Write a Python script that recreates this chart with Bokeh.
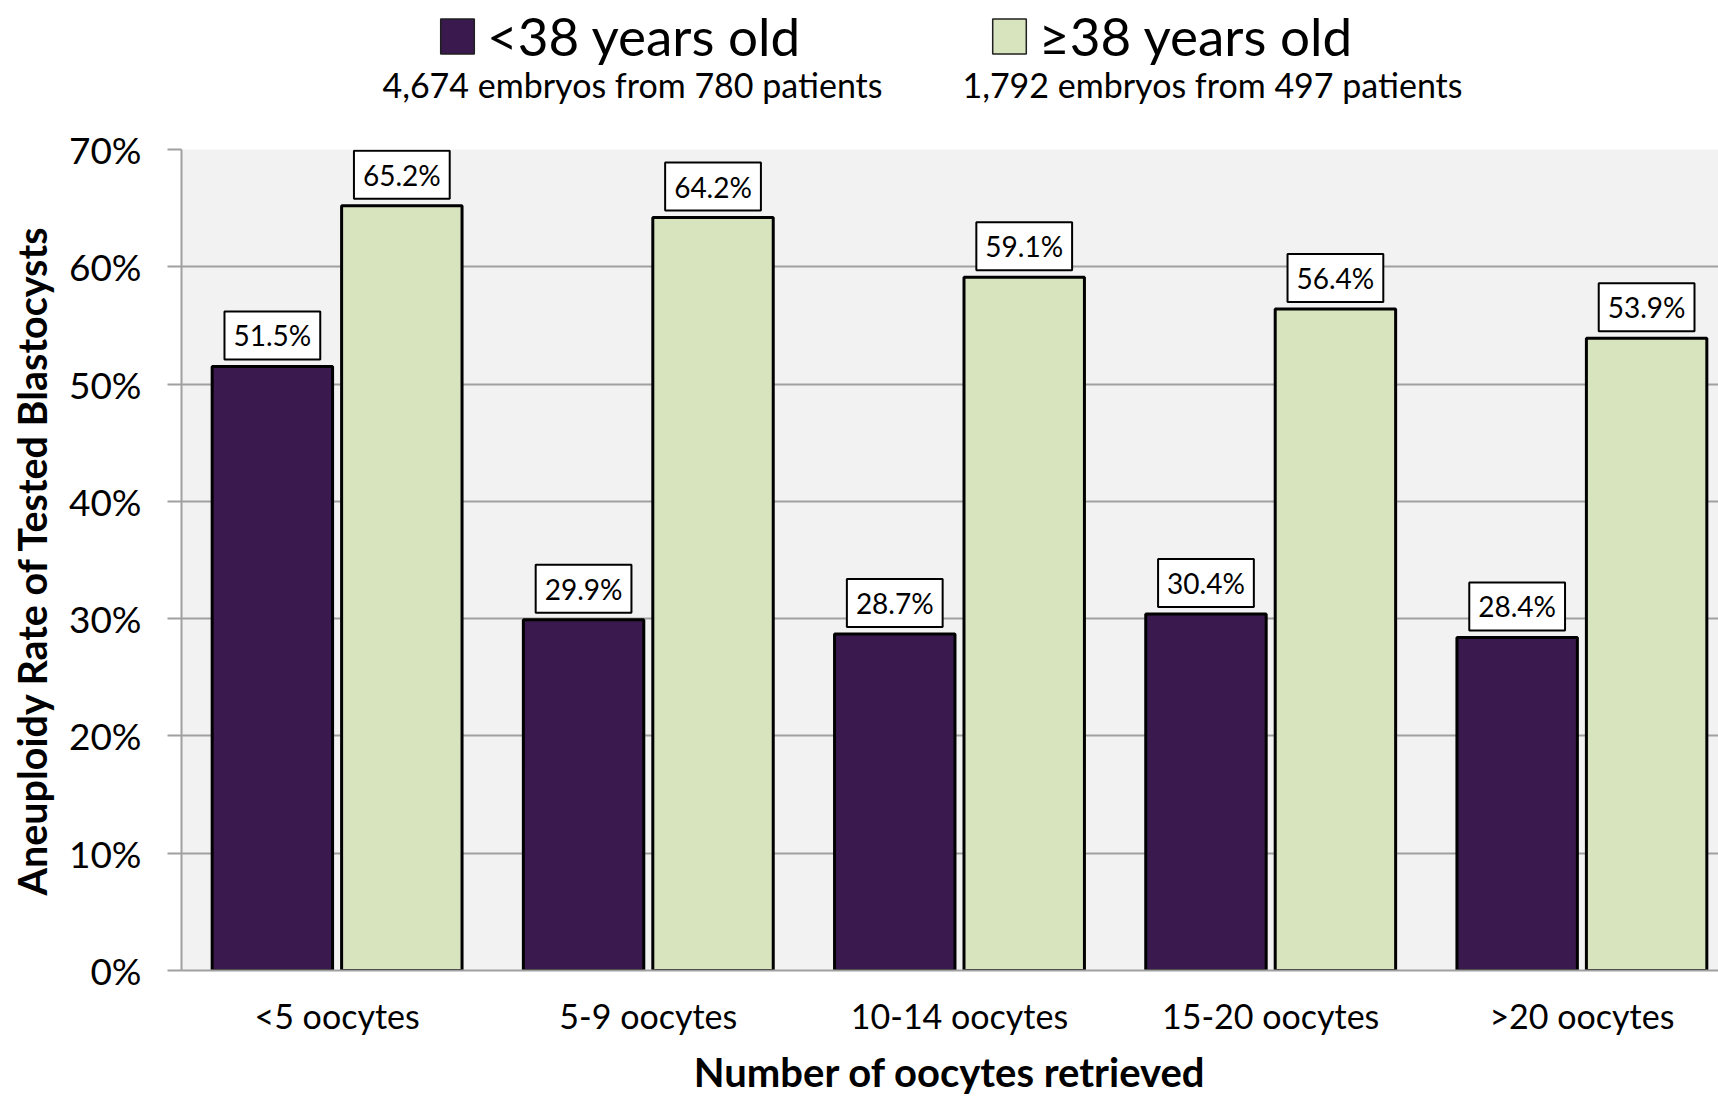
from bokeh.plotting import figure
from bokeh.layouts import column
from bokeh.models import (ColumnDataSource, Range1d, FixedTicker, PrintfTickFormatter,
                          Legend, LegendItem, Label)
from bokeh.core.properties import value
from bokeh.embed import file_html
from bokeh.resources import INLINE

# Aneuploidy rate (%) by number of oocytes retrieved, split by maternal age
categories = ["<5 oocytes", "5-9 oocytes", "10-14 oocytes", "15-20 oocytes", ">20 oocytes"]
under_38 = [51.5, 29.9, 28.7, 30.4, 28.4]
over_38 = [65.2, 64.2, 59.1, 56.4, 53.9]
series_names = ["<38 years old", "≥38 years old"]
series_notes = ["4,674 embryos from 780 patients", "1,792 embryos from 497 patients"]
y_ticks = [0, 10, 20, 30, 40, 50, 60, 70]

FONT = "Lato"
DARK = "#3A1A4E"
LIGHT = "#D8E4BE"
GRID = "#A0A0A0"
HEADER_H = 111
LEFT = 181  # frame left edge shared by both rows

centers = [i + 0.5 for i in range(len(categories))]
offset = 0.208
bar_w = 0.387

src_a = ColumnDataSource(dict(x=[c - offset for c in centers], top=under_38,
                              label=[f"{v:.1f}%" for v in under_38]))
src_b = ColumnDataSource(dict(x=[c + offset for c in centers], top=over_38,
                              label=[f"{v:.1f}%" for v in over_38]))

# ---- header strip: legend plus cohort sizes ----
head = figure(width=1718, height=HEADER_H, x_range=Range1d(0, 1), y_range=Range1d(0, 1),
              x_axis_type=None, y_axis_type=None, output_backend="svg", toolbar_location=None,
              min_border=0, min_border_left=LEFT)
head.outline_line_color = None
head.grid.grid_line_color = None
head.background_fill_color = "white"
head.border_fill_color = "white"

# hidden copies of the series, used only for the legend swatches
swatch_a = head.vbar(x="x", top="top", width=bar_w, source=src_a, fill_color=DARK,
                     line_color="#202020", line_width=1.5, visible=False)
swatch_b = head.vbar(x="x", top="top", width=bar_w, source=src_b, fill_color=LIGHT,
                     line_color="#202020", line_width=1.5, visible=False)

legend = Legend(items=[LegendItem(label=series_names[0], renderers=[swatch_a]),
                       LegendItem(label=series_names[1], renderers=[swatch_b])],
                orientation="horizontal", location=(436 - LEFT, HEADER_H - 67),
                glyph_width=42, glyph_height=44, label_standoff=9, label_width=330,
                spacing=171, padding=0, margin=0,
                inactive_fill_alpha=0,
                label_text_font=FONT, label_text_font_size="53px", label_text_color="black",
                border_line_alpha=0, background_fill_alpha=0)
head.add_layout(legend, "center")

for note, xs in zip(series_notes, (632, 1212)):
    head.add_layout(Label(x=xs - LEFT, y=HEADER_H - 84, x_units="screen", y_units="screen",
                          text=note, text_align="center", text_baseline="middle",
                          text_font=FONT, text_font_size="34px", text_color="black"))

# ---- main bar chart ----
p = figure(width=1718, height=1098 - HEADER_H, x_range=Range1d(0, 4.939), y_range=Range1d(0, 70),
           output_backend="svg", toolbar_location=None,
           min_border_left=LEFT, min_border_right=0, min_border_top=149 - HEADER_H,
           min_border_bottom=127)
p.background_fill_color = "#F2F2F2"
p.border_fill_color = "white"
p.outline_line_color = None

r_a = p.vbar(x="x", top="top", width=bar_w, source=src_a, fill_color=DARK,
             line_color="black", line_width=3)
r_b = p.vbar(x="x", top="top", width=bar_w, source=src_b, fill_color=LIGHT,
             line_color="black", line_width=3)

# value boxes above each bar
for src in (src_a, src_b):
    p.text(x="x", y="top", text="label", source=src, text_align="center",
           text_baseline="bottom", y_offset=-7, text_font=value(FONT),
           text_font_size="28px", text_color="black",
           background_fill_color="white", border_line_color="black",
           border_line_width=2, padding=dict(x=9, y=7))

p.xgrid.grid_line_color = None
p.ygrid.grid_line_color = GRID
p.ygrid.grid_line_width = 2

p.yaxis.ticker = FixedTicker(ticks=y_ticks)
p.yaxis.formatter = PrintfTickFormatter(format="%d%%")
p.yaxis.axis_line_color = GRID
p.yaxis.axis_line_width = 2
p.yaxis.major_tick_line_color = GRID
p.yaxis.major_tick_line_width = 2
p.yaxis.major_tick_out = 14
p.yaxis.major_tick_in = 0
p.yaxis.minor_tick_line_color = None
p.yaxis.major_label_text_font = FONT
p.yaxis.major_label_text_font_size = "37px"
p.yaxis.major_label_text_color = "black"
p.yaxis.major_label_standoff = 26
p.yaxis.axis_label = "Aneuploidy Rate of Tested Blastocysts"
p.yaxis.axis_label_text_font = FONT
p.yaxis.axis_label_text_font_style = "bold"
p.yaxis.axis_label_text_font_size = "39.5px"
p.yaxis.axis_label_text_color = "black"
p.yaxis.axis_label_standoff = 11

p.xaxis.ticker = FixedTicker(ticks=centers)
p.xaxis.major_label_overrides = {c: name for c, name in zip(centers, categories)}
p.xaxis.axis_line_color = GRID
p.xaxis.axis_line_width = 2
p.xaxis.major_tick_out = 0
p.xaxis.major_tick_in = 0
p.xaxis.minor_tick_line_color = None
p.xaxis.major_label_text_font = FONT
p.xaxis.major_label_text_font_size = "34px"
p.xaxis.major_label_text_color = "black"
p.xaxis.major_label_standoff = 24
p.xaxis.axis_label = "Number of oocytes retrieved"
p.xaxis.axis_label_text_font = FONT
p.xaxis.axis_label_text_font_style = "bold"
p.xaxis.axis_label_text_font_size = "40px"
p.xaxis.axis_label_text_color = "black"
p.xaxis.axis_label_standoff = 9

open("out.html", "w").write(file_html(column(head, p), INLINE))
